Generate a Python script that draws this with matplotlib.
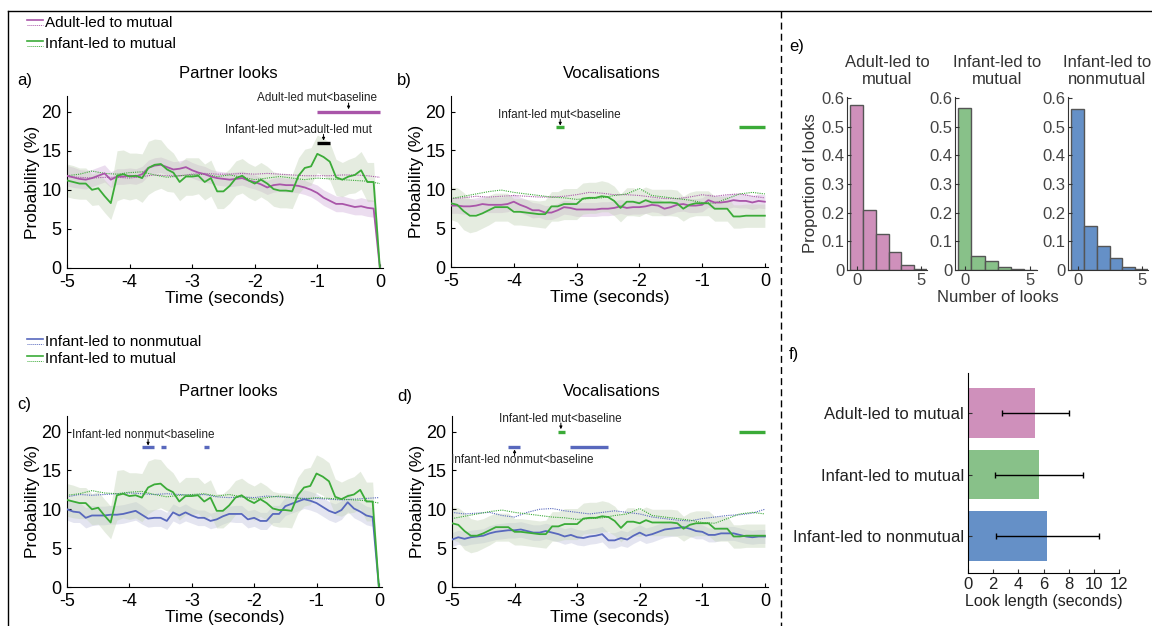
import numpy as np
import matplotlib
matplotlib.use('Agg')
import matplotlib.pyplot as plt

plt.rcParams['font.family'] = ['Liberation Sans', 'DejaVu Sans']

# ---------------------------------------------------------------------------
# data
# ---------------------------------------------------------------------------
t = np.round(np.arange(-5.0, 0.001, 0.1), 1)          # 51 time bins
t_base = np.round(np.arange(-5.0, 0.001, 0.2), 1)     # 26 baseline bins

# partner looks, probability (%)
adult_mut_looks = [11.8, 11.6, 11.4, 11.3, 11.5, 11.8, 12.1, 11.3, 11.7, 11.7,
                   11.8, 11.7, 12.0, 12.8, 13.1, 13.2, 12.9, 12.6, 12.7, 12.9,
                   12.5, 12.2, 12.0, 11.7, 11.5, 11.4, 11.3, 11.4, 11.5, 11.2,
                   11.0, 10.7, 10.3, 10.6, 10.7, 10.6, 10.6, 10.5, 10.3, 10.0,
                   9.6, 9.0, 8.6, 8.2, 8.2, 8.0, 7.8, 7.9, 7.7, 7.6, 0.0]
adult_mut_looks_se = [1.3, 1.3, 1.2, 1.2, 1.1, 1.1, 1.1, 1.0, 1.0, 1.0,
                      1.0, 1.0, 1.0, 1.0, 1.0, 1.0, 1.0, 1.0, 1.0, 1.0,
                      1.0, 1.0, 1.0, 0.9, 0.9, 0.9, 0.9, 0.9, 0.9, 0.9,
                      0.9, 0.9, 0.9, 0.9, 0.9, 0.9, 0.9, 0.9, 0.9, 0.9,
                      1.0, 1.0, 1.0, 1.0, 1.0, 1.0, 1.0, 1.1, 1.1, 1.1, 0.0]
infant_mut_looks = [11.2, 11.0, 10.8, 10.8, 10.0, 10.2, 9.2, 8.3, 11.8, 12.0,
                    11.7, 11.8, 11.5, 12.8, 13.2, 13.3, 12.6, 12.2, 11.0, 11.7,
                    11.7, 11.8, 11.0, 11.5, 9.8, 9.8, 10.5, 11.5, 11.8, 11.2,
                    10.8, 11.3, 10.8, 10.1, 9.9, 9.9, 9.8, 11.8, 12.8, 13.0,
                    14.6, 14.2, 13.6, 11.6, 11.3, 11.7, 11.9, 12.5, 11.0, 11.0, 0.0]
infant_mut_looks_se = [2.1, 2.1, 2.0, 2.0, 2.0, 2.1, 2.1, 2.1, 3.2, 3.1,
                       3.0, 2.9, 3.1, 3.4, 3.3, 3.1, 2.8, 2.5, 2.4, 2.4,
                       2.4, 2.3, 2.3, 2.3, 2.2, 2.2, 2.2, 2.2, 2.2, 2.2,
                       2.2, 2.2, 2.2, 2.2, 2.2, 2.2, 2.2, 2.3, 2.4, 2.4,
                       2.4, 2.4, 2.4, 2.3, 2.2, 2.2, 2.3, 2.4, 2.5, 2.5, 0.0]
infant_nonmut_looks = [10.0, 9.7, 9.6, 8.9, 9.2, 9.2, 9.2, 9.3, 9.3, 9.4,
                       9.6, 9.8, 9.3, 8.8, 8.9, 8.9, 8.5, 9.6, 9.2, 9.6,
                       9.2, 8.9, 8.9, 8.5, 8.7, 9.1, 9.4, 9.4, 9.4, 8.7,
                       8.9, 8.5, 8.5, 9.4, 9.4, 10.4, 10.7, 11.0, 11.3, 11.1,
                       10.8, 10.3, 9.8, 9.5, 9.9, 10.9, 10.1, 9.7, 9.2, 9.0, 0.0]
infant_nonmut_looks_se = [1.4, 1.4, 1.3, 1.3, 1.3, 1.2, 1.2, 1.2, 1.2, 1.2,
                          1.2, 1.2, 1.2, 1.1, 1.1, 1.1, 1.1, 1.1, 1.1, 1.1,
                          1.0, 1.0, 1.0, 1.0, 1.0, 1.0, 1.0, 1.1, 1.1, 1.1,
                          1.1, 1.1, 1.1, 1.1, 1.1, 1.2, 1.2, 1.2, 1.2, 1.2,
                          1.2, 1.2, 1.2, 1.2, 1.2, 1.2, 1.2, 1.2, 1.2, 1.2, 0.0]

adult_base_looks = [11.7, 11.6, 11.5, 11.6, 11.6, 11.5, 11.7, 11.9, 11.8, 11.8,
                    12.0, 12.1, 12.0, 12.0, 12.1, 12.0, 12.1, 12.0, 11.9, 11.8,
                    11.8, 11.8, 11.9, 11.9, 11.8, 11.6]
infant_mut_base_looks = [11.8, 12.0, 12.4, 12.1, 12.0, 12.2, 12.3, 11.9, 11.6, 11.8,
                         11.9, 12.0, 11.7, 11.9, 11.6, 11.3, 11.5, 11.7, 11.5, 11.3,
                         11.5, 11.4, 11.3, 11.2, 11.1, 10.8]
infant_nonmut_base_looks = [11.6, 11.9, 11.8, 11.9, 12.0, 12.1, 12.0, 11.9, 12.0, 11.9,
                            11.8, 11.9, 11.6, 11.5, 11.6, 11.5, 11.7, 11.6, 11.5, 11.4,
                            11.4, 11.3, 11.2, 11.3, 11.4, 11.5]

# vocalisations, probability (%)
adult_mut_voc = [7.9, 7.9, 7.8, 7.8, 7.9, 8.1, 8.0, 8.0, 8.0, 8.1,
                 8.4, 8.0, 7.7, 7.3, 7.3, 7.0, 7.0, 7.3, 7.7, 7.6,
                 7.4, 7.4, 7.4, 7.4, 7.5, 7.5, 7.6, 7.8, 7.6, 7.7,
                 7.7, 7.8, 8.0, 7.9, 7.5, 7.7, 8.0, 8.1, 7.9, 7.9,
                 8.0, 8.6, 8.3, 8.3, 8.4, 8.6, 8.5, 8.5, 8.3, 8.5, 8.4]
adult_mut_voc_se = [1.0, 1.0, 1.0, 1.0, 1.0, 1.0, 1.0, 1.0, 1.0, 1.0,
                    1.0, 1.0, 1.0, 1.0, 0.9, 0.9, 0.9, 0.9, 0.9, 0.9,
                    0.9, 0.9, 0.9, 0.9, 0.9, 0.9, 0.9, 0.9, 0.9, 0.9,
                    0.9, 0.9, 0.9, 0.9, 0.9, 0.9, 0.9, 0.9, 0.9, 0.9,
                    0.9, 0.9, 0.9, 0.9, 0.9, 0.9, 0.9, 0.9, 0.9, 0.9, 0.9]
infant_mut_voc = [8.2, 8.0, 7.2, 6.6, 6.6, 6.9, 7.3, 7.7, 7.7, 7.7,
                  7.1, 7.1, 7.0, 6.9, 6.8, 6.8, 7.8, 7.8, 8.1, 8.1,
                  8.1, 8.8, 8.9, 8.9, 9.1, 9.0, 8.5, 7.6, 8.4, 8.4,
                  8.2, 8.6, 8.3, 8.3, 8.3, 8.3, 8.2, 7.5, 8.0, 8.2,
                  8.2, 8.2, 7.5, 7.5, 7.5, 6.5, 6.5, 6.6, 6.6, 6.6, 6.6]
infant_mut_voc_se = [2.1, 2.2, 2.4, 2.2, 2.0, 1.9, 1.9, 1.8, 1.8, 1.8,
                     1.7, 1.7, 1.7, 1.7, 1.7, 1.8, 1.9, 1.9, 2.0, 2.0,
                     2.0, 2.0, 2.0, 2.0, 2.0, 1.9, 1.9, 1.8, 1.8, 1.8,
                     1.7, 1.7, 1.7, 1.7, 1.7, 1.7, 1.7, 1.6, 1.6, 1.6,
                     1.6, 1.6, 1.6, 1.6, 1.6, 1.5, 1.5, 1.5, 1.5, 1.5, 1.5]
infant_nonmut_voc = [6.1, 6.4, 6.2, 6.4, 6.5, 6.6, 6.9, 7.1, 7.2, 7.3,
                     7.3, 7.4, 7.2, 7.0, 7.0, 7.2, 7.0, 6.8, 6.5, 6.7,
                     6.4, 6.3, 6.5, 6.6, 6.8, 6.0, 6.0, 6.3, 6.1, 6.6,
                     7.0, 6.6, 6.8, 7.1, 7.4, 7.5, 7.6, 7.7, 7.5, 7.2,
                     7.1, 6.7, 6.7, 6.9, 6.9, 6.9, 6.7, 6.5, 6.4, 6.5, 6.5]
infant_nonmut_voc_se = [0.9, 0.9, 0.9, 0.9, 0.9, 0.9, 1.0, 1.0, 1.0, 1.0,
                        1.0, 1.0, 1.0, 1.0, 1.0, 1.0, 1.0, 1.0, 1.0, 1.0,
                        1.0, 1.0, 1.0, 1.0, 1.0, 1.0, 1.0, 1.0, 1.0, 1.0,
                        1.0, 1.0, 1.0, 1.0, 1.0, 1.0, 1.0, 1.0, 1.0, 1.0,
                        0.9, 0.9, 0.9, 0.9, 0.9, 0.9, 0.9, 0.9, 0.9, 0.9, 0.9]

adult_base_voc = [8.8, 8.9, 9.1, 9.0, 9.1, 9.2, 9.1, 9.0, 9.0, 9.1,
                  9.3, 9.6, 9.5, 9.3, 9.3, 9.2, 9.0, 8.8, 8.8, 9.0,
                  9.3, 9.1, 9.3, 9.4, 9.1, 8.9]
infant_mut_base_voc = [8.8, 9.1, 9.4, 9.7, 9.9, 9.6, 9.4, 9.2, 9.0, 8.9,
                       8.7, 8.8, 8.9, 9.2, 9.4, 10.1, 9.2, 9.0, 8.8, 8.6,
                       8.3, 8.2, 8.8, 9.4, 9.6, 9.4]
infant_nonmut_base_voc = [9.6, 9.4, 9.5, 9.6, 9.2, 9.0, 9.6, 10.0, 10.1, 9.8,
                          9.6, 9.4, 9.6, 9.8, 9.6, 9.4, 9.0, 8.8, 8.6, 8.5,
                          8.8, 9.0, 9.2, 9.3, 9.5, 10.0]

# distribution of number of looks (proportion)
n_looks = [0, 1, 2, 3, 4, 5]
hist_adult_mut = [0.575, 0.21, 0.125, 0.063, 0.018, 0.005]
hist_infant_mut = [0.565, 0.05, 0.03, 0.012, 0.003, 0.001]
hist_infant_nonmut = [0.56, 0.152, 0.085, 0.042, 0.012, 0.002]

# look length (seconds)
look_groups = ['Adult-led to mutual', 'Infant-led to mutual', 'Infant-led to nonmutual']
look_mean = [5.35, 5.65, 6.3]
look_sd = [2.65, 3.5, 4.1]

# ---------------------------------------------------------------------------
PINK, GREEN, BLUE = '#a955a9', '#3bab38', '#5868bd'
PINK_F, GREEN_F, BLUE_F = '#d4b4dc', '#c7d6bb', '#c4c6df'
PINK_H, GREEN_H, BLUE_H = '#cf90bb', '#88c189', '#6590c7'

W, H = 1152, 626
fig = plt.figure(figsize=(W / 100, H / 100), dpi=100)


def px_axes(left, top, right, bottom):
    return fig.add_axes([left / W, 1 - bottom / H, (right - left) / W, (bottom - top) / H])


def time_panel(ax, series, sig_bars, notes):
    for vals, se, base, line_c, fill_c in series:
        v = np.array(vals)
        s = np.array(se)
        ax.fill_between(t, v - s, v + s, color=fill_c, alpha=0.45, lw=0, zorder=1)
    for vals, se, base, line_c, fill_c in series:
        ax.plot(t_base, base, color=line_c, lw=0.8, ls=(0, (1, 1)), zorder=2)
    for vals, se, base, line_c, fill_c in series:
        ax.plot(t, vals, color=line_c, lw=1.3, zorder=3)
    for x0, x1, y, c in sig_bars:
        ax.plot([x0, x1], [y, y], color=c, lw=2.4, solid_capstyle='butt', zorder=4)
    for txt, tx, ty, ax_x, y0, y1 in notes:
        ax.text(tx, ty, txt, fontsize=8.5, ha='center', va='center', color='#222')
        ax.annotate('', xy=(ax_x, y1), xytext=(ax_x, y0),
                    arrowprops=dict(arrowstyle='-|>', lw=0.7, color='k',
                                    mutation_scale=4, shrinkA=0, shrinkB=0))
    ax.set_xlim(-5, 0.05)
    ax.set_ylim(0, 22)
    ax.set_xticks([-5, -4, -3, -2, -1, 0])
    ax.set_xticklabels(['-5', '-4', '-3', '-2', '-1', '0'])
    ax.set_yticks([0, 5, 10, 15, 20])
    ax.tick_params(direction='in', length=3, labelsize=13)
    ax.tick_params(axis='x', pad=4)
    ax.tick_params(axis='y', pad=4)
    ax.set_xlabel('Time (seconds)', fontsize=12.5, labelpad=0)
    ax.set_ylabel('Probability (%)', fontsize=12.5, labelpad=1)
    for sp in ['top', 'right']:
        ax.spines[sp].set_visible(False)
    ax.set_facecolor('none')


ax_a = px_axes(67, 96, 383, 268)
time_panel(ax_a,
           [(adult_mut_looks, adult_mut_looks_se, adult_base_looks, PINK, PINK_F),
            (infant_mut_looks, infant_mut_looks_se, infant_mut_base_looks, GREEN, GREEN_F)],
           [(-1.0, 0.0, 20, PINK), (-1.0, -0.8, 16, 'k')],
           [('Adult-led mut<baseline', -1.0, 21.7, -0.5, 21.1, 20.3),
            ('Infant-led mut>adult-led mut', -1.3, 17.7, -0.9, 17.1, 16.3)])

ax_b = px_axes(451, 96, 768, 267)
time_panel(ax_b,
           [(adult_mut_voc, adult_mut_voc_se, adult_base_voc, PINK, PINK_F),
            (infant_mut_voc, infant_mut_voc_se, infant_mut_base_voc, GREEN, GREEN_F)],
           [(-3.32, -3.2, 18, GREEN), (-0.41, 0.0, 18, GREEN)],
           [('Infant-led mut<baseline', -3.27, 19.5, -3.26, 19.0, 18.2)])

ax_c = px_axes(67, 416, 382, 587)
time_panel(ax_c,
           [(infant_nonmut_looks, infant_nonmut_looks_se, infant_nonmut_base_looks, BLUE, BLUE_F),
            (infant_mut_looks, infant_mut_looks_se, infant_mut_base_looks, GREEN, GREEN_F)],
           [(-3.8, -3.61, 18, BLUE), (-3.5, -3.41, 18, BLUE), (-2.81, -2.72, 18, BLUE)],
           [('Infant-led nonmut<baseline', -3.78, 19.5, -3.7, 19.0, 18.2)])

ax_d = px_axes(452, 416, 768, 587)
time_panel(ax_d,
           [(infant_nonmut_voc, infant_nonmut_voc_se, infant_nonmut_base_voc, BLUE, BLUE_F),
            (infant_mut_voc, infant_mut_voc_se, infant_mut_base_voc, GREEN, GREEN_F)],
           [(-3.3, -3.2, 20, GREEN), (-0.41, 0.0, 20, GREEN),
            (-4.11, -3.91, 18, BLUE), (-3.11, -2.51, 18, BLUE)],
           [('Infant-led mut<baseline', -3.27, 21.6, -3.26, 21.1, 20.3),
            ('Infant-led nonmut<baseline', -3.88, 16.4, -4.0, 16.9, 17.7)])

# histograms (panel e)
hist_axes = []
for (l, r), vals, col in zip([(847, 927), (955, 1037), (1068, 1148)],
                             [hist_adult_mut, hist_infant_mut, hist_infant_nonmut],
                             [PINK_H, GREEN_H, BLUE_H]):
    ax = px_axes(l, 97, r, 270)
    ax.bar(n_looks, vals, width=1.0, color=col, edgecolor='#555555', lw=1.0)
    ax.set_xlim(-0.75, 5.5)
    ax.set_ylim(0, 0.603)
    ax.set_xticks([0, 5])
    ax.set_yticks([0, 0.1, 0.2, 0.3, 0.4, 0.5, 0.6])
    ax.set_yticklabels(['0', '0.1', '0.2', '0.3', '0.4', '0.5', '0.6'])
    ax.tick_params(direction='in', length=3, labelsize=12, pad=2, colors='#333',
                   labelcolor='#444')
    for sp in ['top', 'right']:
        ax.spines[sp].set_visible(False)
    for sp in ['left', 'bottom']:
        ax.spines[sp].set_color('#333')
    ax.set_facecolor('none')
    hist_axes.append(ax)
hist_axes[0].set_ylabel('Proportion of looks', fontsize=12, color='#333', labelpad=2)

# look length (panel f)
ax_f = px_axes(968, 373, 1119, 573)
ypos = [0, 1, 2]
ax_f.barh(ypos, look_mean, height=0.81, color=[PINK_H, GREEN_H, BLUE_H])
ax_f.errorbar(look_mean, ypos, xerr=look_sd, fmt='none', ecolor='k',
              elinewidth=1.0, capsize=2, capthick=1.0)
ax_f.set_xlim(0, 12)
ax_f.set_ylim(2.6, -0.65)
ax_f.set_xticks([0, 2, 4, 6, 8, 10, 12])
ax_f.set_yticks(ypos)
ax_f.set_yticklabels(look_groups)
ax_f.tick_params(direction='in', length=3, labelsize=12, pad=3, colors='#333',
                 labelcolor='#222')
ax_f.set_xlabel('Look length (seconds)', fontsize=11.5, color='#222', labelpad=1)
for sp in ['top', 'right']:
    ax_f.spines[sp].set_visible(False)
ax_f.set_facecolor('none')

# overlay in pixel coordinates: frame, labels, titles, legends
ov = fig.add_axes([0, 0, 1, 1], zorder=10)
ov.set_xlim(0, W)
ov.set_ylim(H, 0)
ov.axis('off')
ov.plot([8, W], [11, 11], color='k', lw=1.0)
ov.plot([8, 8], [11, H], color='k', lw=1.0)
ov.plot([781, 781], [11, H], color='k', lw=1.0, ls=(0, (5, 3)))

for lab, x, y in [('a)', 17, 80), ('b)', 397, 81), ('c)', 17, 405),
                  ('d)', 397, 397), ('e)', 789, 46), ('f)', 789, 354)]:
    ov.text(x, y, lab, fontsize=12, ha='left', va='center')

for txt, x, y in [('Partner looks', 228, 74), ('Vocalisations', 612, 73),
                  ('Partner looks', 228, 392), ('Vocalisations', 612, 392)]:
    ov.text(x, y, txt, fontsize=12, ha='center', va='center')

for txt, x in [('Adult-led to\nmutual', 887), ('Infant-led to\nmutual', 997),
               ('Infant-led to\nnonmutual', 1107)]:
    ov.text(x, 71, txt, fontsize=12, ha='center', va='center', color='#333',
            linespacing=1.15)
ov.text(998, 297, 'Number of looks', fontsize=12, ha='center', va='center', color='#333')

for txt, y, c in [('Adult-led to mutual', 23, PINK), ('Infant-led to mutual', 44, GREEN),
                  ('Infant-led to nonmutual', 342, BLUE), ('Infant-led to mutual', 359, GREEN)]:
    ov.plot([27, 43], [y - 3, y - 3], color=c, lw=1.2)
    ov.plot([27, 43], [y + 2, y + 2], color=c, lw=0.7, ls=(0, (1, 1)))
    ov.text(45, y, txt, fontsize=11, ha='left', va='center')

fig.savefig('out.png', dpi=100)
